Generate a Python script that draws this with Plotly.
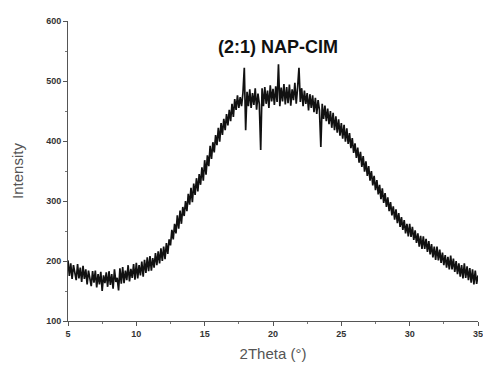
import plotly.graph_objects as go

# 2Theta values from 5.0 to 35.0 in steps of 0.1 (index-based)
theta_start = 5.0
theta_step = 0.1

intensity = [
    # 5.0 - 5.9
    201, 175, 196, 170, 193, 178, 168, 195, 171, 189,
    # 6.0 - 6.9
    165, 192, 170, 186, 161, 184, 168, 158, 183, 164,
    # 7.0 - 7.9
    184, 156, 178, 161, 182, 150, 176, 163, 181, 157,
    # 8.0 - 8.9
    183, 160, 178, 154, 186, 165, 172, 151, 188, 162,
    # 9.0 - 9.9
    190, 163, 184, 168, 193, 166, 187, 172, 195, 169,
    # 10.0 - 10.9
    197, 171, 193, 176, 199, 174, 202, 180, 206, 183,
    # 11.0 - 11.9
    208, 184, 205, 189, 213, 193, 216, 196, 221, 200,
    # 12.0 - 12.9
    224, 203, 230, 212, 236, 226, 252, 236, 262, 246,
    # 13.0 - 13.9
    276, 254, 284, 262, 290, 275, 300, 283, 312, 294,
    # 14.0 - 14.9
    322, 298, 329, 310, 338, 316, 345, 327, 356, 334,
    # 15.0 - 15.9
    368, 344, 376, 358, 392, 370, 398, 381, 410, 393,
    # 16.0 - 16.9
    422, 399, 430, 410, 437, 418, 445, 426, 452, 433,
    # 17.0 - 17.9
    462, 440, 470, 452, 476, 455, 473, 458, 480, 522,
    # 18.0 - 18.9
    418, 482, 458, 486, 455, 480, 460, 488, 452, 479,
    # 19.0 - 19.9
    461, 385, 488, 458, 490, 462, 484, 455, 493, 466,
    # 20.0 - 20.9
    487, 460, 491, 465, 528, 458, 489, 466, 495, 461,
    # 21.0 - 21.9
    490, 463, 494, 459, 486, 468, 497, 462, 489, 522,
    # 22.0 - 22.9
    465, 488, 458, 484, 462, 480, 451, 478, 455, 476,
    # 23.0 - 23.9
    448, 472, 445, 468, 451, 390, 462, 437, 459, 433,
    # 24.0 - 24.9
    454, 428, 450, 422, 447, 418, 441, 414, 436, 409,
    # 25.0 - 25.9
    430, 404, 427, 399, 421, 395, 413, 388, 405, 380,
    # 26.0 - 26.9
    396, 372, 389, 364, 382, 357, 375, 349, 366, 342,
    # 27.0 - 27.9
    358, 334, 350, 326, 342, 318, 335, 311, 327, 303,
    # 28.0 - 28.9
    321, 297, 313, 290, 306, 283, 298, 276, 291, 269,
    # 29.0 - 29.9
    286, 263, 280, 257, 273, 252, 268, 246, 262, 241,
    # 30.0 - 30.9
    262, 240, 257, 235, 251, 230, 246, 224, 242, 220,
    # 31.0 - 31.9
    241, 220, 237, 215, 233, 211, 228, 206, 224, 202,
    # 32.0 - 32.9
    224, 201, 219, 197, 214, 193, 210, 189, 207, 186,
    # 33.0 - 33.9
    209, 186, 204, 182, 200, 178, 196, 174, 193, 171,
    # 34.0 - 34.9
    196, 172, 191, 168, 188, 164, 186, 161, 184, 162,
    # 35.0
    176,
]

x_ticks = [5, 10, 15, 20, 25, 30, 35]
y_ticks = [100, 200, 300, 400, 500, 600]

two_theta = [round(theta_start + i * theta_step, 2) for i in range(len(intensity))]

fig = go.Figure()
fig.add_trace(go.Scatter(
    x=two_theta, y=intensity, mode="lines",
    line=dict(color="#111111", width=1.7),
    showlegend=False,
))

font_family = "Arial, Liberation Sans, sans-serif"

fig.update_layout(
    width=483, height=359,
    margin=dict(l=60, r=8, t=10, b=45),
    paper_bgcolor="white", plot_bgcolor="white",
    annotations=[
        dict(text="<b>(2:1) NAP-CIM</b>", x=0.511, y=0.914, xref="paper", yref="paper",
             xanchor="center", yanchor="middle", showarrow=False,
             font=dict(family=font_family, size=18, color="#111111")),
    ],
)
fig.update_xaxes(
    range=[5, 35], tickvals=x_ticks, ticktext=["<b>%d</b>" % v for v in x_ticks],
    showline=True, linecolor="#555555", linewidth=1, mirror=False,
    ticks="outside", ticklen=4, tickcolor="#555555",
    minor=dict(dtick=2.5, tick0=5, ticks="outside", ticklen=2, tickcolor="#777777"),
    showgrid=False, zeroline=False,
    tickfont=dict(family=font_family, size=9, color="#333333"),
    title=dict(text="2Theta (°)", font=dict(family=font_family, size=15, color="#555555"), standoff=10),
)
fig.update_yaxes(
    range=[100, 600], tickvals=y_ticks, ticktext=["<b>%d</b>" % v for v in y_ticks],
    showline=True, linecolor="#555555", linewidth=1, mirror=False,
    ticks="outside", ticklen=4, tickcolor="#555555",
    minor=dict(dtick=50, tick0=100, ticks="outside", ticklen=2, tickcolor="#777777"),
    showgrid=False, zeroline=False,
    tickfont=dict(family=font_family, size=9, color="#333333"),
    title=dict(text="Intensity", font=dict(family=font_family, size=15, color="#555555"), standoff=18),
)

fig.write_html("out.html")
